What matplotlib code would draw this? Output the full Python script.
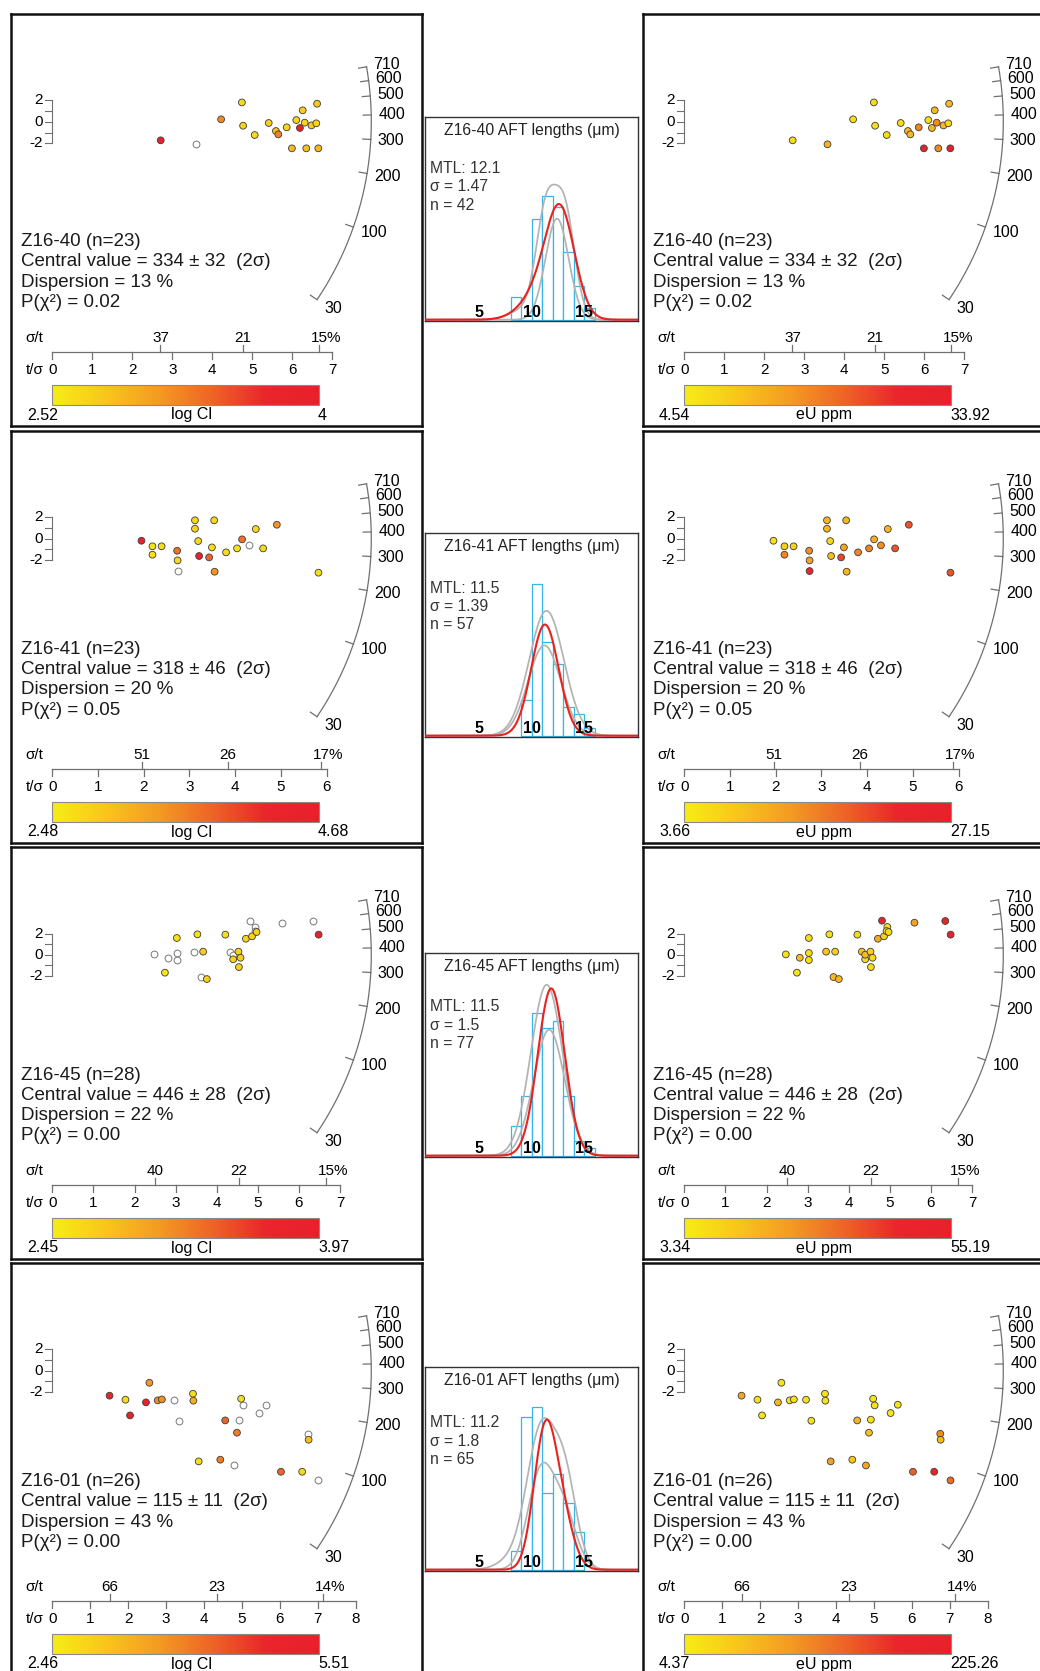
import numpy as np
import matplotlib
matplotlib.use("Agg")
import matplotlib.pyplot as plt
from matplotlib.colors import LinearSegmentedColormap, Normalize
from matplotlib.colorbar import ColorbarBase
from matplotlib.transforms import blended_transform_factory

plt.rcParams["font.family"] = ["Liberation Sans", "DejaVu Sans"]

W, H = 1040, 1671
nan = np.nan

# ---------------- sample summary ----------------
samples = ["Z16-40", "Z16-41", "Z16-45", "Z16-01"]
n_grains = [23, 23, 28, 26]
central_age = [334, 318, 446, 115]
central_err = [32, 46, 28, 11]
dispersion = [13, 20, 22, 43]
p_chi2 = ["0.02", "0.05", "0.00", "0.00"]
rel_err_ticks = [[37, 21, 15], [51, 26, 17], [40, 22, 15], [66, 23, 14]]
precision_max = [7, 6, 7, 8]
age_ticks = [30, 100, 200, 300, 400, 500, 600, 710]
logcl_limits = [("2.52", "4"), ("2.48", "4.68"), ("2.45", "3.97"), ("2.46", "5.51")]
eu_limits = [("4.54", "33.92"), ("3.66", "27.15"), ("3.34", "55.19"), ("4.37", "225.26")]

# ---------------- single-grain data (precision t/sigma, standardised estimate) ----------------
z1640_prec = [2.71, 3.58, 4.22, 4.74, 4.77, 5.06, 5.41, 5.59, 5.65, 5.86,
              5.99, 6.10, 6.19, 6.26, 6.31, 6.35, 6.48, 6.60, 6.62, 6.65]
z1640_std = [-1.72, -2.09, 0.22, 1.78, -0.37, -1.23, -0.12, -0.86, -1.17, -0.52,
             -2.46, 0.15, -0.58, 1.05, -0.09, -2.46, -0.34, -0.15, 1.66, -2.46]
z1640_logcl = [3.95, nan, 3.2, 2.65, 2.7, 2.65, 2.75, 2.85, 3.25, 2.7,
               2.9, 2.7, 3.95, 2.75, 2.7, 2.85, 2.75, 2.7, 2.8, 2.9]
z1640_eu = [7, 13, 7, 7, 7, 7, 7, 12, 12, 19, 32, 7, 12, 12, 18, 18, 12, 8, 12, 32]

z1641_prec = [1.95, 2.19, 2.19, 2.39, 2.73, 2.74, 2.74, 3.12, 3.12, 3.19, 3.21, 3.43,
              3.49, 3.54, 3.55, 3.80, 4.04, 4.15, 4.30, 4.45, 4.61, 4.91, 5.82]
z1641_std = [-0.19, -0.71, -1.49, -0.71, -1.12, -2.02, -3.01, 1.71, 0.93, -0.22, -1.61, -1.74,
             -0.81, 1.71, -3.07, -1.27, -0.90, -0.06, -0.62, 0.90, -0.90, 1.30, -3.16]
z1641_logcl = [4.6, 2.6, 2.6, 2.65, 3.7, 2.7, nan, 2.7, 2.75, 2.7, 4.6, 3.8,
               2.65, 2.7, 3.4, 2.65, 2.6, 3.7, nan, 2.7, 2.65, 3.4, 2.65]
z1641_eu = [5, 7, 15, 7, 14, 12, 24, 10, 10, 6, 9, 20, 12, 10, 10, 15, 15, 11, 14, 10, 19, 19, 19]

z1645_prec = [2.47, 2.74, 2.81, 3.03, 3.03, 3.03, 3.45, 3.53, 3.63, 3.67, 3.76, 4.21, 4.32, 4.40,
              4.40, 4.53, 4.54, 4.58, 4.71, 4.81, 4.86, 4.94, 4.92, 4.97, 5.60, 6.35, 6.48]
z1645_std = [0.03, -1.71, -0.29, 1.59, 0.16, -0.51, 0.29, 1.94, -2.13, 0.29, -2.32, 1.91, 0.29, -0.44,
             0.0, 0.29, -1.18, -0.29, 1.52, 3.24, 1.75, 2.64, 2.25, 2.16, 3.05, 3.21, 1.91]
z1645_logcl = [nan, 2.5, nan, 2.55, nan, nan, nan, 2.55, nan, 2.7, 2.7, 2.55, nan, 2.65,
               nan, 2.65, 2.68, 2.7, 2.65, nan, 2.65, nan, nan, 2.65, nan, nan, 3.92]
z1645_eu = [5, 6, 16, 7, 7, 7, 14, 7, 17, 12, 17, 8, 14, 8,
            16, 11, 8, 8, 20, 48, 11, 7, 7, 8, 22, 50, 50]

z1601_prec = [1.51, 1.93, 2.05, 2.47, 2.56, 2.78, 2.89, 3.21, 3.35, 3.71, 3.72, 3.86, 4.43,
              4.56, 4.79, 4.87, 4.92, 4.98, 5.02, 5.44, 5.63, 6.03, 6.59, 6.75, 6.76, 7.02]
z1601_std = [-2.34, -2.72, -4.19, -2.97, -1.13, -2.78, -2.69, -2.72, -4.69, -2.16, -2.81, -8.50, -8.34,
             -4.66, -8.88, -5.81, -4.59, -2.63, -3.25, -3.97, -3.19, -9.47, -9.47, -5.91, -6.47, -10.28]
z1601_logcl = [5.3, 2.7, 5.3, 5.2, 3.7, 3.8, 3.8, nan, nan, 2.7, 3.4, 2.7, 4.0,
               4.3, nan, 4.0, nan, 2.7, nan, nan, nan, 4.3, 2.8, nan, 3.2, nan]
z1601_eu = [80, 15, 15, 65, 15, 18, 20, 18, 15, 15, 18, 85, 45,
            65, 80, 55, 18, 15, 18, 15, 18, 140, 205, 105, 60, 130]

grain_prec = [z1640_prec, z1641_prec, z1645_prec, z1601_prec]
grain_std = [z1640_std, z1641_std, z1645_std, z1601_std]
grain_logcl = [z1640_logcl, z1641_logcl, z1645_logcl, z1601_logcl]
grain_eu = [z1640_eu, z1641_eu, z1645_eu, z1601_eu]

# ---------------- track-length data ----------------
mtl = ["12.1", "11.5", "11.5", "11.2"]
mtl_sd = ["1.47", "1.39", "1.5", "1.8"]
mtl_n = [42, 57, 77, 65]
len_bin_start = [[8, 9, 10, 11, 12, 13, 14, 15],
                 [9, 10, 11, 12, 13, 14, 15],
                 [8, 9, 10, 11, 12, 13, 14, 15],
                 [8, 9, 10, 11, 12, 13, 14]]
len_counts = [[2, 0, 9, 11, 10, 6, 3, 1],
              [5, 21, 13, 10, 4, 3, 1],
              [4, 8, 19, 17, 18, 8, 2, 1],
              [2, 16, 17, 8, 10, 7, 4]]
# modelled length distributions: (centre um, spread um, peak in counts) components
model_best = [[(12.75, 1.35, 8.6), (11.0, 1.8, 2.6)],
              [(11.25, 1.3, 15.4)],
              [(11.85, 1.28, 22.3)],
              [(11.2, 1.05, 13.5), (12.8, 1.1, 5.5)]]
model_upper = [[(11.35, 0.95, 9.5), (13.15, 0.95, 9.3), (9.0, 1.2, 0.8)],
               [(11.4, 1.65, 17.3)],
               [(11.42, 1.5, 22.8)],
               [(10.9, 1.35, 14.5), (13.2, 1.1, 8.5), (8.2, 1.4, 1.0)]]
model_lower = [[(12.4, 1.1, 9.0)],
               [(11.2, 1.55, 12.5)],
               [(11.65, 1.47, 16.8)],
               [(10.8, 1.2, 9.8), (13.0, 1.2, 6.0)]]

# ---------------- layout (pixels) ----------------
box_top = [14, 431, 847, 1263]
hist_top = [117, 533, 953, 1367]
text_y0 = [227.7, 218.3, 228.0, 218.7]
mtl_y0 = [51.5, 55.3, 53.7, 55.7]
px_per_prec = [40.0, 45.73, 41.1, 37.92]
px_per_std = [10.83, 10.75, 10.5, 10.67]
hist_px_per_count = [11.23, 7.22, 7.5, 9.55]
LEFT_X, RIGHT_X = 10.7, 642.7
BOX_W, BOX_H = 411.0, 412.0
ORIGIN = (41.6, 107.7)
ARC_R, ARC_K, ARC_T0 = 319.0, 0.2677, 369.6
GREY = "#707070"
FS_SCALE = 11.0
FS_ARC = 11.5
FS_BLOCK = 13.5
FS_HIST = 11.3

cmap = LinearSegmentedColormap.from_list(
    "ylorrd_bar", ["#f6ec15", "#f9c51b", "#f39a22", "#ee6426", "#e9262b", "#e8202a"])

fig = plt.figure(figsize=(W / 100, H / 100), dpi=100)
fig.patch.set_facecolor("white")


def frac_rect(x, y, w, h):
    return [x / W, 1 - (y + h) / H, w / W, h / H]


def ftext(x, y, s, **kw):
    fig.text(x / W, 1 - y / H, s, **kw)


def arc_angle(t):
    return np.arctan(ARC_K * np.log(np.asarray(t, float) / ARC_T0))


def radial_panel(x0, row, values, lims, label):
    y0 = box_top[row]
    sx, sy = px_per_prec[row], px_per_std[row]
    ox, oy = ORIGIN
    ax = fig.add_axes(frac_rect(x0, y0, BOX_W, BOX_H))
    ax.set_xlim(-ox / sx, (BOX_W - ox) / sx)
    ax.set_ylim(-(BOX_H - oy) / sy, oy / sy)
    ax.set_xticks([])
    ax.set_yticks([])
    for sp in ax.spines.values():
        sp.set_linewidth(1.8)
        sp.set_color("#111111")

    # 2-sigma bar
    ax.plot([0, 0], [-2, 2], color=GREY, lw=0.8)
    for z in [-2, -1, 0, 1, 2]:
        ax.plot([-7 / sx, 0], [z, z], color=GREY, lw=0.8)
    for z in [2, 0, -2]:
        ax.text(-9.6 / sx, z, str(z), ha="right", va="center", fontsize=FS_SCALE)

    # age arc
    th = np.linspace(arc_angle(30), arc_angle(710), 300)
    ax.plot(ARC_R * np.cos(th) / sx, ARC_R * np.sin(th) / sy, color=GREY, lw=0.9)
    for t in age_ticks:
        a = arc_angle(t)
        ax.plot([ARC_R * np.cos(a) / sx, (ARC_R - 8) * np.cos(a) / sx],
                [ARC_R * np.sin(a) / sy, (ARC_R - 8) * np.sin(a) / sy], color=GREY, lw=0.9)
        ax.text((ARC_R * np.cos(a) + 7.0) / sx, (ARC_R + 16) * np.sin(a) / sy, str(t),
                ha="left", va="center", fontsize=FS_ARC)

    # grains
    prec = np.array(grain_prec[row])
    std = np.array(grain_std[row])
    vals = np.array(values, float)
    vmin, vmax = float(lims[0]), float(lims[1])
    miss = np.isnan(vals)
    ax.scatter(prec[miss], std[miss], s=24, facecolors="white", edgecolors="#777777",
               linewidths=0.7, zorder=3)
    ax.scatter(prec[~miss], std[~miss], c=vals[~miss], cmap=cmap, norm=Normalize(vmin, vmax),
               s=24, edgecolors="#3c3c3c", linewidths=0.6, zorder=4)

    # precision / relative error scale
    yl = -(337.7 - oy) / sy
    tmax = precision_max[row]
    ax.plot([0, tmax], [yl, yl], color=GREY, lw=0.9)
    for i in range(tmax + 1):
        ax.plot([i, i], [yl, yl - 7 / sy], color=GREY, lw=0.9)
        ax.text(i, yl - 18.3 / sy, str(i), ha="center", va="center", fontsize=FS_SCALE)
    pcts = rel_err_ticks[row]
    for k, p in enumerate(pcts):
        xp = 100.0 / p
        ax.plot([xp, xp], [yl, yl + 7 / sy], color=GREY, lw=0.9)
        ax.text(xp, yl + 13.4 / sy, str(p), ha="center", va="center", fontsize=FS_SCALE)
        if k == len(pcts) - 1:
            ax.annotate("%", xy=(xp, yl + 13.4 / sy), xytext=(5.2, 0),
                        textcoords="offset points", ha="left", va="center", fontsize=FS_SCALE)
    ax.text(-8.6 / sx, yl + 13.4 / sy, "σ/t", ha="right", va="center", fontsize=FS_SCALE)
    ax.text(-8.6 / sx, yl - 18.3 / sy, "t/σ", ha="right", va="center", fontsize=FS_SCALE)

    # summary text
    lines = [f"{samples[row]} (n={n_grains[row]})",
             f"Central value = {central_age[row]} ± {central_err[row]}  (2σ)",
             f"Dispersion = {dispersion[row]} %",
             f"P(χ²) = {p_chi2[row]}"]
    for i, s in enumerate(lines):
        ftext(x0 + 10, y0 + text_y0[row] + i * 20.3, s, ha="left", va="center",
              fontsize=FS_BLOCK, color="#1a1a1a")

    # colour scale
    cax = fig.add_axes(frac_rect(x0 + ox, y0 + 371, 266.7, 20))
    cb = ColorbarBase(cax, cmap=cmap, norm=Normalize(vmin, vmax), orientation="horizontal")
    cb.set_ticks([])
    cb.outline.set_edgecolor("#8a8a8a")
    cb.outline.set_linewidth(0.8)
    ftext(x0 + ox + 6, y0 + 401, lims[0], ha="right", va="center", fontsize=FS_ARC)
    ftext(x0 + ox + 265.7, y0 + 401, lims[1], ha="left", va="center", fontsize=FS_ARC)
    ftext(x0 + 181, y0 + 401, label, ha="center", va="center", fontsize=FS_ARC)


def mixture(x, comps):
    y = np.zeros_like(x)
    for c, s, a in comps:
        y += a * np.exp(-0.5 * ((x - c) / s) ** 2)
    return y


def hist_panel(row):
    top = hist_top[row]
    hh = 204.0
    ppc = hist_px_per_count[row]
    hax = fig.add_axes(frac_rect(425, top, 213, hh))
    hax.set_xlim(-0.13, 20.08)
    hax.set_ylim(-1.3 / ppc, (hh - 1.3) / ppc)
    hax.set_xticks([])
    hax.set_yticks([])
    for sp in hax.spines.values():
        sp.set_linewidth(1.0)
        sp.set_color("#333333")
    hax.bar(len_bin_start[row], len_counts[row], width=1.0, align="edge",
            facecolor="white", edgecolor="#35b6ea", linewidth=0.9, zorder=1)
    xx = np.linspace(-0.5, 20.5, 600)
    hax.plot(xx, mixture(xx, model_upper[row]), color="#b3b3b3", lw=1.25, zorder=2)
    hax.plot(xx, mixture(xx, model_lower[row]), color="#b3b3b3", lw=1.25, zorder=2)
    hax.plot(xx, mixture(xx, model_best[row]), color="#e8231f", lw=1.5, zorder=3)
    tr = blended_transform_factory(hax.transData, hax.transAxes)
    for v in [5, 10, 15]:
        hax.text(v, 8.7 / hh, str(v), transform=tr, ha="center", va="center",
                 fontsize=11.5, fontweight="bold", zorder=4)
    hax.text(0.5, 1 - 13 / hh, f"{samples[row]} AFT lengths (μm)", transform=hax.transAxes,
             ha="center", va="center", fontsize=FS_HIST, color="#222222")
    info = [f"MTL: {mtl[row]}", f"σ = {mtl_sd[row]}", f"n = {mtl_n[row]}"]
    for i, s in enumerate(info):
        hax.text(5 / 213, 1 - (mtl_y0[row] + i * 18.3) / hh, s, transform=hax.transAxes,
                 ha="left", va="center", fontsize=FS_HIST, color="#333333")


for r in range(4):
    radial_panel(LEFT_X, r, grain_logcl[r], logcl_limits[r], "log Cl")
    radial_panel(RIGHT_X, r, grain_eu[r], eu_limits[r], "eU ppm")
    hist_panel(r)

fig.savefig("out.png", dpi=100, facecolor="white")
